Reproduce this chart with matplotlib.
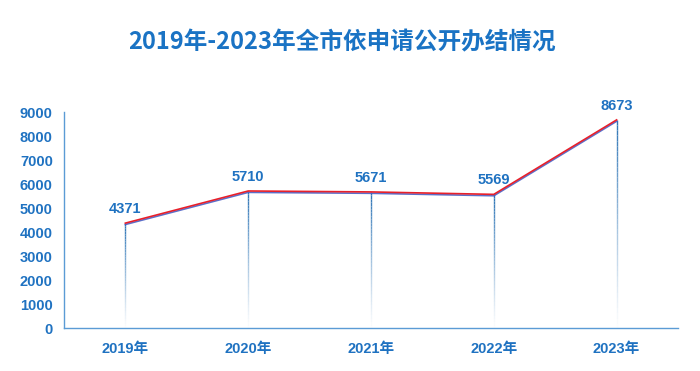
import numpy as np
import matplotlib
matplotlib.use("Agg")
import matplotlib.pyplot as plt
import matplotlib.patheffects as pe

plt.rcParams['font.family'] = ['Liberation Sans', 'Noto Sans CJK SC', 'DejaVu Sans']

years = ['2019年', '2020年', '2021年', '2022年', '2023年']
counts = [4371, 5710, 5671, 5569, 8673]
yticks = [0, 1000, 2000, 3000, 4000, 5000, 6000, 7000, 8000, 9000]

txt = '#1f72c1'
axis_c = '#5b9bd5'

fig = plt.figure(figsize=(7, 3.71), dpi=100)
ax = fig.add_axes([0.0914, 0.1159, 0.8772, 0.5821])

x = np.arange(len(years))

# fading drop lines
for xi, v in zip(x, counts):
    n = 40
    ys = np.linspace(v, 0, n + 1)
    for k in range(n):
        a = max(0.0, 1 - k / n) ** 1.2
        ax.plot([xi, xi], [ys[k], ys[k + 1]], color='#2e75b6', lw=1, alpha=a,
                solid_capstyle='butt')

ax.plot(x, counts, color='#e8202a', lw=1.2, zorder=5,
        path_effects=[pe.SimpleLineShadow(offset=(0, -1), shadow_color='#4a5fc4', alpha=0.9),
                      pe.Normal()])

for xi, v in zip(x, counts):
    ax.annotate(str(v), (xi, v), xytext=(0, 5), textcoords='offset points',
                ha='center', va='bottom', fontsize=10.5, fontweight='bold', color=txt)

ax.set_xlim(-0.5, len(years) - 0.5)
ax.set_ylim(0, 9000)
ax.set_xticks(x)
ax.set_xticklabels(years)
ax.set_yticks(yticks)
for s in ['top', 'right']:
    ax.spines[s].set_visible(False)
for s in ['left', 'bottom']:
    ax.spines[s].set_color(axis_c)
    ax.spines[s].set_linewidth(1)
ax.tick_params(length=0, colors=txt, labelsize=10.5, pad=8)
ax.tick_params(axis='x', pad=10)
for lab in ax.get_xticklabels() + ax.get_yticklabels():
    lab.set_fontweight('bold')

fig.text(0.488, 0.887, '2019年-2023年全市依申请公开办结情况', ha='center', va='center',
         fontsize=17, fontweight='bold', color='#1a73c4',
         family=['Noto Sans CJK SC', 'DejaVu Sans'])

fig.savefig('out.png', dpi=100)
